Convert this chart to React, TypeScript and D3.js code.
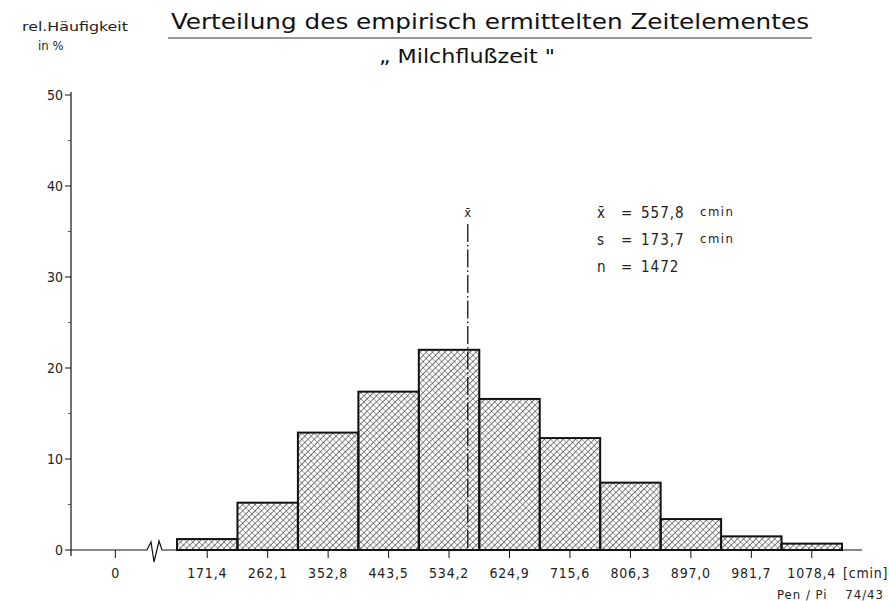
import React from "react";
import * as d3 from "d3";

const binLabels = ["171,4", "262,1", "352,8", "443,5", "534,2", "624,9", "715,6", "806,3", "897,0", "981,7", "1078,4"];
const freq = [1.2, 5.2, 12.9, 17.4, 22.0, 16.6, 12.3, 7.4, 3.4, 1.5, 0.7];
const yTicks = [0, 10, 20, 30, 40, 50];
const yMinor = [5, 15, 25, 35, 45];
const statSymbols = ["x̄", "s", "n"];
const statValues = ["557,8", "173,7", "1472"];
const statUnits = ["cmin", "cmin", ""];
const meanValue = 557.8;
const firstCenter = 171.4;
const lastCenter = 1078.4;

const FONT = "'DejaVu Sans Condensed', 'Liberation Sans Narrow', 'DejaVu Sans', sans-serif";

export default function App() {
  const W = 889, H = 601;
  const x = d3.scaleLinear().domain([0, binLabels.length]).range([177, 842]);
  const y = d3.scaleLinear().domain([0, 50]).range([550, 95]);
  const xc = d3.scaleLinear().domain([firstCenter, lastCenter]).range([x(0.5), x(binLabels.length - 0.5)]);
  const axisX = 71;
  const zeroX = x(-1.02);
  const meanX = xc(meanValue) + 3;
  const y0 = y(0);

  return (
    <svg width={W} height={H} style={{ position: "absolute", left: 0, top: 0, background: "#fff" }} fontFamily={FONT}>
      <defs>
        <pattern id="hatch" width="4.4" height="4.4" patternUnits="userSpaceOnUse" patternTransform="rotate(45)">
          <line x1="0" y1="0" x2="0" y2="4.4" stroke="#111" strokeWidth="1.1" />
          <line x1="0" y1="0" x2="4.4" y2="0" stroke="#333" strokeWidth="0.8" />
        </pattern>
      </defs>
      <rect width={W} height={H} fill="#fff" />

      {/* Title */}
      <text x={490} y={29} fontSize={21} fontWeight={300} textAnchor="middle" textLength={638} lengthAdjust="spacingAndGlyphs" fill="#111">
        Verteilung des empirisch ermittelten Zeitelementes
      </text>
      <line x1={168} x2={812} y1={38} y2={38} stroke="#333" strokeWidth={1.2} />
      <text x={467} y={63} fontSize={19} fontWeight={300} textAnchor="middle" textLength={176} lengthAdjust="spacingAndGlyphs" fill="#111">
        „ Milchflußzeit "
      </text>

      {/* Y label */}
      <text x={22} y={31} fontSize={12} textLength={106} lengthAdjust="spacingAndGlyphs" fill="#222">rel.Häufigkeit</text>
      <text x={38} y={50} fontSize={13} fill="#222">in %</text>

      {/* Y axis */}
      <line x1={axisX} x2={axisX} y1={92} y2={556} stroke="#111" strokeWidth={1.2} />
      {yTicks.map((t) => (
        <g key={t}>
          <line x1={axisX - 6} x2={axisX} y1={y(t)} y2={y(t)} stroke="#111" strokeWidth={1} />
          <text x={axisX - 8} y={y(t) + 5} fontSize={14} textAnchor="end" fill="#222">{t}</text>
        </g>
      ))}
      {yMinor.map((t) => (
        <line key={t} x1={axisX - 3} x2={axisX} y1={y(t)} y2={y(t)} stroke="#333" strokeWidth={0.8} />
      ))}

      {/* X axis with break */}
      <path
        d={`M${axisX},${y0} L147,${y0} L151,${y0 - 8} L154,${y0 + 12} L159,${y0 - 9} L162,${y0} L${x(binLabels.length) + 20},${y0}`}
        fill="none" stroke="#111" strokeWidth={1.2} strokeLinejoin="miter" />
      <line x1={zeroX} x2={zeroX} y1={y0} y2={y0 + 8} stroke="#111" strokeWidth={1} />
      <text x={zeroX} y={578} fontSize={14} textAnchor="middle" fill="#222">0</text>

      {/* Bars */}
      {freq.map((f, i) => (
        <rect key={i} x={x(i)} y={y(f)} width={x(i + 1) - x(i)} height={y0 - y(f)}
          fill="url(#hatch)" stroke="#111" strokeWidth={2} />
      ))}

      {/* X ticks */}
      {binLabels.map((l, i) => (
        <g key={l}>
          <line x1={x(i + 0.5)} x2={x(i + 0.5)} y1={y0} y2={y0 + 8} stroke="#111" strokeWidth={1} />
          <text x={x(i + 0.5)} y={578} fontSize={14} letterSpacing={0.8} textAnchor="middle" fill="#222">{l}</text>
        </g>
      ))}
      <text x={843} y={578} fontSize={14} letterSpacing={0.8} fill="#222">[cmin]</text>
      <text x={777} y={599} fontSize={13} letterSpacing={1} fill="#222">Pen / Pi</text>
      <text x={884} y={599} fontSize={13} letterSpacing={1} textAnchor="end" fill="#222">74/43</text>

      {/* Mean line */}
      <text x={meanX} y={217} fontSize={13} textAnchor="middle" fill="#222">x̄</text>
      <line x1={meanX} x2={meanX} y1={224} y2={y0} stroke="#111" strokeWidth={1.3} strokeDasharray="18 3 1.5 3" />

      {/* Stats */}
      {statSymbols.map((s, i) => (
        <g key={s} fill="#222">
          <text x={597} y={218 + i * 27} fontSize={15}>{s}</text>
          <text x={621} y={218 + i * 27} fontSize={15}>=</text>
          <text x={641} y={218 + i * 27} fontSize={15} letterSpacing={1}>{statValues[i]}</text>
          {statUnits[i] ? <text x={700} y={216 + i * 27} fontSize={13} letterSpacing={1.5}>{statUnits[i]}</text> : null}
        </g>
      ))}
    </svg>
  );
}
